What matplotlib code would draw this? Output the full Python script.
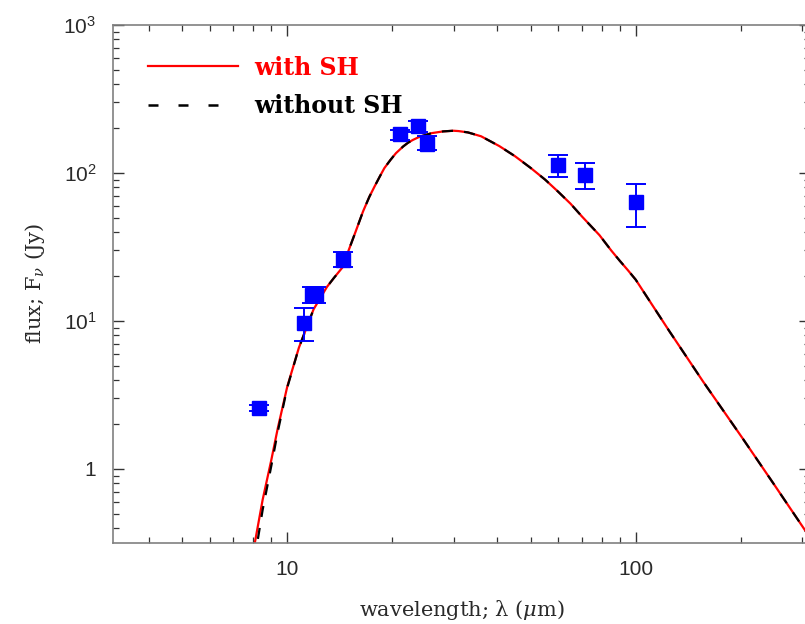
import matplotlib
matplotlib.use("Agg")
import matplotlib.pyplot as plt
from matplotlib.lines import Line2D
from matplotlib.ticker import FixedLocator, FixedFormatter, LogLocator, NullFormatter

plt.rcParams['mathtext.fontset'] = 'custom'
plt.rcParams['mathtext.rm'] = 'Liberation Sans'
plt.rcParams['mathtext.it'] = 'DejaVu Serif:italic'

# model SED, wavelength in micron, flux in Jy
lam_model = [7.9, 8.07, 8.5, 9.0, 9.4, 10.0, 10.8, 11.9, 13.0, 13.6, 14.4, 15.0,
             15.7, 16.5, 17.2, 17.8, 18.4, 19.0, 19.8, 20.5, 21.5, 22.2, 22.9,
             24.0, 26.0, 28.0, 30.0, 31.0, 33.0, 36.0, 40.6, 45.0, 50.0, 55.0,
             59.8, 65.0, 70.0, 78.7, 85.0, 90.0, 95.0, 100.0, 125.0, 156.0,
             203.0, 250.0, 320.0]
flux_with = [0.22, 0.316, 0.62, 1.15, 1.9, 3.6, 6.6, 12.0, 17.0, 19.5, 23.0, 30.0,
             40.0, 55.0, 69.0, 81.0, 94.0, 108.0, 123.0, 136.0, 151.0, 160.0, 167.0,
             176.0, 186.0, 191.0, 193.0, 192.0, 188.0, 177.0, 152.0, 130.0, 108.0, 90.0,
             75.0, 62.0, 51.0, 38.0, 30.0, 25.5, 22.0, 19.0, 8.5, 3.9,
             1.6, 0.78, 0.33]
flux_without = [0.17, 0.25, 0.53, 1.05, 1.8, 3.55, 6.6, 12.0, 17.0, 19.5, 23.0, 30.0,
                40.0, 55.0, 69.0, 81.0, 94.0, 108.0, 123.0, 136.0, 151.0, 160.0, 167.0,
                176.0, 186.0, 191.0, 193.0, 192.0, 188.0, 177.0, 152.0, 130.0, 108.0, 90.0,
                75.0, 62.0, 51.0, 38.0, 30.0, 25.5, 22.0, 19.0, 8.5, 3.9,
                1.6, 0.78, 0.33]

# observed photometry
lam_obs = [8.3, 11.17, 11.78, 12.1, 14.45, 21.1, 23.7, 25.1, 60.0, 71.3, 100.0]
flux_obs = [2.58, 9.67, 15.0, 15.0, 25.8, 184.0, 209.0, 157.0, 113.0, 97.0, 64.0]
err_lo = [2.46, 7.36, 13.2, 13.2, 23.3, 167.0, 189.0, 143.0, 94.0, 78.0, 43.5]
err_hi = [2.70, 12.2, 17.1, 17.1, 29.1, 196.0, 226.0, 177.0, 132.0, 117.0, 84.0]

fig = plt.figure(figsize=(8.05, 6.24), dpi=100)
ax = fig.add_axes([113 / 805, 81 / 624, 697 / 805, 518 / 624])
ax.set_xscale('log')
ax.set_yscale('log')

ax.plot(lam_model, flux_with, color='#ff0000', lw=1.6, zorder=2)
ax.plot(lam_model, flux_without, color='black', lw=1.6, dashes=(5, 5), zorder=3)

yerr = [[f - l for f, l in zip(flux_obs, err_lo)],
        [h - f for f, h in zip(flux_obs, err_hi)]]
ax.errorbar(lam_obs, flux_obs, yerr=yerr, fmt='s', color='#0000ff', ms=9.5,
            elinewidth=1.4, capsize=7.5, capthick=1.4, zorder=4)

ax.set_xlim(10 ** 0.5, 10 ** 2.5)
ax.set_ylim(10 ** -0.5, 1e3)

ax.xaxis.set_major_locator(FixedLocator([10, 100]))
ax.xaxis.set_major_formatter(FixedFormatter(['10', '100']))
ax.xaxis.set_minor_locator(LogLocator(base=10, subs=range(2, 10)))
ax.xaxis.set_minor_formatter(NullFormatter())
ax.yaxis.set_major_locator(FixedLocator([1, 10, 100, 1000]))
ax.yaxis.set_major_formatter(FixedFormatter(['1', r'$\mathrm{10^1}$', r'$\mathrm{10^2}$', r'$\mathrm{10^3}$']))
ax.yaxis.set_minor_locator(LogLocator(base=10, subs=range(2, 10)))
ax.yaxis.set_minor_formatter(NullFormatter())

ax.tick_params(which='both', direction='in', top=True, right=True, color='#333333')
ax.tick_params(which='major', length=8, width=1, pad=12)
ax.tick_params(which='minor', length=4.5, width=0.9)
for lab in ax.get_xticklabels() + ax.get_yticklabels():
    lab.set_fontfamily('Liberation Sans')
    lab.set_fontsize(15)
    lab.set_color('#2a2a2a')
for s in ax.spines.values():
    s.set_color('#808080')
    s.set_linewidth(1.2)

ax.set_xlabel(r'wavelength; λ ($\mu$m)', family='DejaVu Serif', fontsize=15,
              color='#2a2a2a', labelpad=14)
ax.set_ylabel(r'flux; F$_\nu$ (Jy)', family='DejaVu Serif', fontsize=15,
              color='#2a2a2a', labelpad=12)

handles = [Line2D([], [], color='#ff0000', lw=1.6),
           Line2D([], [], color='black', lw=1.8, dashes=(4, 8))]
leg = ax.legend(handles, ['with SH', 'without SH'], loc='upper left',
                bbox_to_anchor=(0.006, 1.0), frameon=False,
                handlelength=3.8, handletextpad=0.7, labelspacing=0.6,
                borderaxespad=0.95, borderpad=0.35,
                prop={'family': 'DejaVu Serif', 'weight': 'bold', 'size': 17})
leg.get_texts()[0].set_color('#ff0000')
leg.get_texts()[1].set_color('black')

fig.savefig('out.png', dpi=100)
